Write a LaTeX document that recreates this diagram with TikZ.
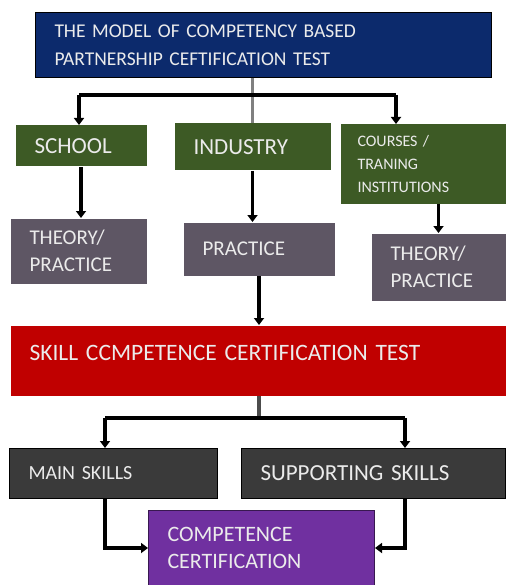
\documentclass[tikz,border=0pt]{standalone}
\usepackage{fontspec}
\setmainfont{Carlito}
\usetikzlibrary{arrows.meta}
\definecolor{navy}{HTML}{0C2A6C}
\definecolor{olive}{HTML}{3D5A25}
\definecolor{slate}{HTML}{5E5664}
\definecolor{crimson}{HTML}{C00000}
\definecolor{coal}{HTML}{3A3A3A}
\definecolor{violet}{HTML}{7030A0}
\begin{document}
\begin{tikzpicture}
[x=1pt,y=-1pt,
 every node/.style={anchor=north west,draw=black,line width=1pt,text=white!92!black,align=left,inner xsep=19pt,inner ysep=0pt},
 link/.style={line width=3.5pt,-{Triangle[width=10pt,length=7pt]}}]
  \useasboundingbox (0,0) rectangle (505,585);

  \node[fill=navy,text width=418pt,minimum height=65pt,font=\fontsize{19.5}{28}\selectfont] (title) at (35,12)
    {THE MODEL OF COMPETENCY BASED\\PARTNERSHIP CEFTIFICATION TEST};
  \node[fill=olive,draw=none,text width=93pt,minimum height=41pt,font=\fontsize{23}{26}\selectfont] (school) at (15,125) {SCHOOL};
  \node[fill=olive,draw=none,text width=118pt,minimum height=47pt,font=\fontsize{23}{26}\selectfont] (industry) at (174,123) {INDUSTRY};
  \node[fill=olive,draw=none,inner xsep=17pt,text width=131pt,minimum height=79pt,font=\fontsize{16}{23}\selectfont] (courses) at (340,124)
    {COURSES /\\TRANING\\INSTITUTIONS};
  \node[fill=slate,draw=none,text width=98pt,minimum height=65pt,font=\fontsize{21}{27}\selectfont] (theoryL) at (10,218) {THEORY/\\PRACTICE};
  \node[fill=slate,draw=none,text width=113pt,minimum height=53pt,font=\fontsize{21}{27}\selectfont] (practice) at (183,222) {PRACTICE};
  \node[fill=slate,draw=none,text width=96pt,minimum height=67pt,font=\fontsize{21}{27}\selectfont] (theoryR) at (371,233) {THEORY/\\PRACTICE};
  \node[fill=crimson,draw=none,text width=457pt,text height=35pt,text depth=35pt,font=\fontsize{23.5}{26}\selectfont] (test) at (10,325)
    {SKILL CCMPETENCE CERTIFICATION TEST};
  \node[fill=coal,text width=170pt,minimum height=50pt,font=\fontsize{20}{24}\selectfont] (main) at (9,448) {MAIN SKILLS};
  \node[fill=coal,text width=226pt,minimum height=50pt,font=\fontsize{23}{26}\selectfont] (support) at (241,448) {SUPPORTING SKILLS};
  \node[fill=violet,draw=violet!50!black,text width=188pt,minimum height=75pt,font=\fontsize{22}{27}\selectfont] (cert) at (148,510)
    {COMPETENCE\\CERTIFICATION};

  \coordinate (busL) at (79,95);
  \coordinate (busR) at (396,95);
  \coordinate (splitL) at (105,418);
  \coordinate (splitR) at (405,418);

  \draw[line width=3.5pt,gray] (title.south -| industry.north) -- (industry.north);
  \draw[line width=3.5pt] (busL) -- (busR);
  \draw[link] (busL) -- (busL |- school.north);
  \draw[link] (busR) -- (busR |- courses.north);
  \draw[link] (school.south) -- (school.south |- theoryL.north);
  \draw[link] (industry.south) -- (industry.south |- practice.north);
  \draw[link] (theoryR.north |- courses.south) -- (theoryR.north);
  \draw[link] (practice.south) -- (practice.south |- test.north);

  \draw[line width=3.5pt,gray!60!black] (test.south -| practice.south) -- (splitL -| practice.south);
  \draw[line width=3.5pt] (splitL) -- (splitR);
  \draw[link] (splitL) -- (splitL |- main.north);
  \draw[link] (splitR) -- (splitR |- support.north);
  \draw[link] (splitL |- main.south) |- (cert.west);
  \draw[link] (splitR |- support.south) |- (cert.east);
\end{tikzpicture}
\end{document}
